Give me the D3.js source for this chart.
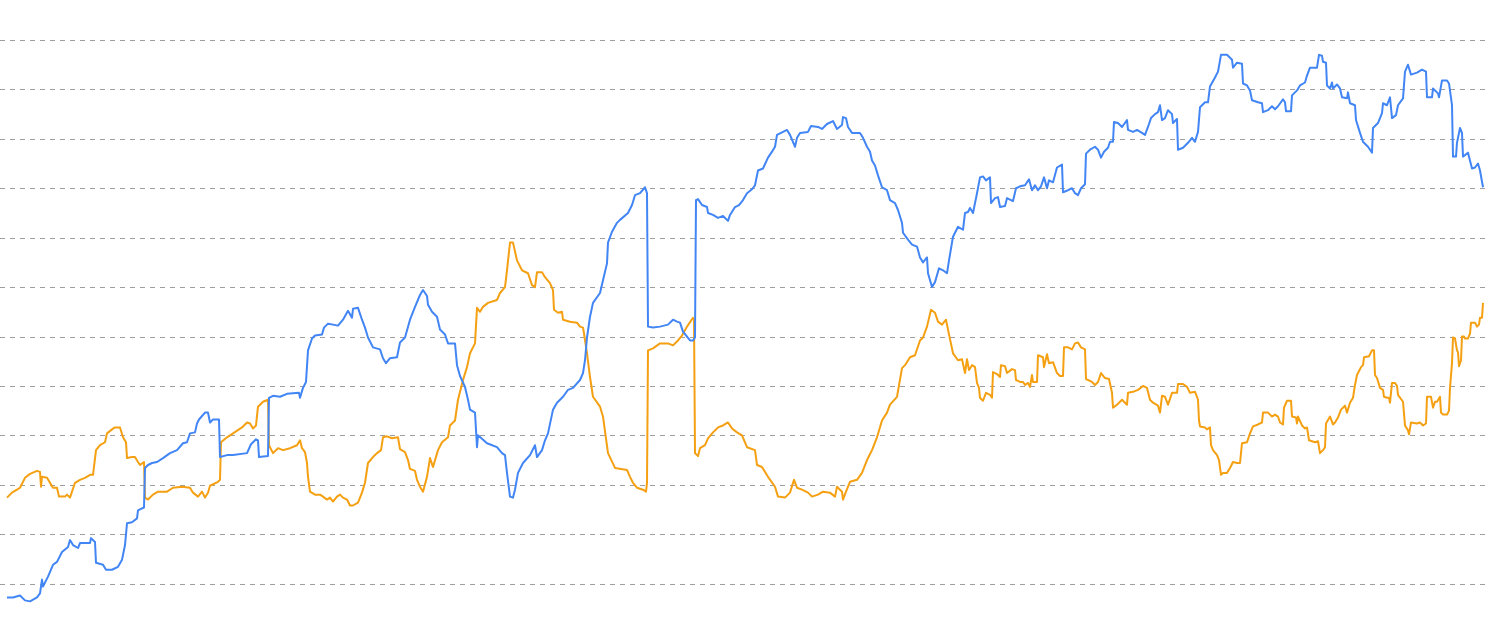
<!DOCTYPE html>
<html>
<head>
<meta charset="utf-8">
<script src="https://cdn.jsdelivr.net/npm/d3@7"></script>
<style>
  body { margin: 0; background: #fff; }
</style>
</head>
<body>
<div id="chart"></div>
<script>
// gridline values (labels are not shown in the chart)
const yTicks = [50, 100, 150, 200, 250, 300, 350, 400, 450, 500, 550, 600];

// [step, value] pairs
const blueSeries = [
  [0,36],[6,36],[13,38],[18,33],[23,32],[30,36],[33,40],[35,54],[36,47],[41,57],[46,69],[50,72],[55,82],[61,87],[63,94],[66,89],[71,86],[73,91],[83,91],[84,96],[88,92],[89,71],[96,69],[99,64],[105,64],[111,67],[115,74],[118,89],[120,111],[125,112],[130,116],[131,124],[135,126],[137,127],
  [138,167],[141,170],[145,172],[150,173],[156,177],[163,182],[170,185],[176,192],[180,193],[183,202],[188,203],[190,212],[192,216],[198,223],[201,223],[203,213],[206,216],[212,216],[213,178],[220,180],[226,180],[240,182],[244,191],[249,196],[251,195],[252,178],[261,179],
  [262,238],[266,240],[273,239],[280,242],[292,243],[293,238],[296,248],[299,254],[301,286],[305,298],[308,301],[315,302],[317,309],[321,313],[326,312],[331,311],[336,317],[341,326],[345,319],[346,328],[351,329],[355,317],[358,309],[361,299],[366,289],[373,287],[376,278],[379,273],[383,278],[390,279],
  [393,294],[398,299],[403,317],[408,330],[413,342],[416,347],[420,341],[421,332],[425,325],[430,320],[433,307],[438,302],[441,293],[448,293],[450,271],[453,260],[458,249],[461,236],[463,226],[468,223],[470,188],[471,200],[480,192],[490,188],[495,182],[498,180],[500,162],[503,138],[506,137],[508,145],[511,162],[516,172],
  [523,180],[528,190],[530,178],[535,185],[538,195],[541,202],[546,226],[550,233],[556,239],[561,246],[566,248],[573,256],[576,263],[578,276],[580,299],[583,320],[586,334],[593,344],[596,357],[600,374],[601,395],[605,406],[610,415],[613,418],[621,425],[625,433],[628,443],[633,445],[638,451],[640,445],
  [641,310],[646,309],[653,310],[661,312],[666,317],[670,315],[673,314],[676,305],[683,296],[686,296],[688,299],[689,438],[691,439],[695,433],[700,431],[701,425],[706,423],[711,420],[716,422],[721,417],[723,423],[728,431],[732,433],[736,438],[740,445],[745,449],[748,453],[751,468],[756,470],[761,481],[765,487],[768,492],
  [770,504],[776,507],[780,509],[783,504],[788,492],[790,501],[793,506],[801,507],[804,513],[811,512],[815,510],[820,515],[826,518],[830,510],[835,514],[836,522],[839,521],[841,512],[845,506],[853,506],[856,501],[860,492],[863,487],[865,478],[868,473],[871,463],[875,451],[880,448],[883,438],[888,435],[891,428],
  [895,415],[896,405],[901,398],[905,393],[910,391],[913,380],[916,375],[920,380],[921,364],[925,350],[928,355],[932,369],[936,367],[940,364],[942,377],[946,401],[951,411],[956,408],[958,425],[961,426],[963,430],[966,425],[970,445],[973,461],[976,462],[979,458],[983,461],[984,435],[988,440],[991,441],[993,431],
  [998,432],[1000,440],[1006,437],[1009,450],[1013,452],[1018,453],[1022,459],[1025,448],[1028,453],[1031,448],[1034,452],[1037,461],[1040,450],[1042,458],[1046,456],[1050,471],[1055,474],[1056,446],[1061,448],[1065,450],[1068,445],[1071,443],[1074,450],[1078,454],[1079,485],[1083,489],[1088,492],[1091,489],
  [1094,481],[1097,487],[1101,491],[1103,497],[1106,497],[1107,517],[1111,516],[1115,512],[1120,519],[1121,509],[1126,507],[1130,509],[1135,506],[1138,504],[1141,512],[1144,521],[1148,525],[1151,527],[1153,534],[1155,519],[1158,521],[1161,529],[1165,525],[1166,516],[1170,520],[1171,489],[1176,491],[1181,496],
  [1185,501],[1188,497],[1191,507],[1193,532],[1198,537],[1201,537],[1203,553],[1208,562],[1211,568],[1214,585],[1220,585],[1225,580],[1226,572],[1230,577],[1235,576],[1236,556],[1240,554],[1243,549],[1245,539],[1251,537],[1255,536],[1256,527],[1261,529],[1265,533],[1268,530],[1271,533],[1276,540],[1278,537],
  [1279,528],[1284,528],[1285,544],[1290,549],[1293,554],[1298,557],[1300,564],[1303,572],[1310,572],[1312,585],[1315,584],[1316,578],[1319,577],[1320,554],[1323,551],[1325,557],[1326,551],[1330,555],[1333,551],[1335,542],[1340,541],[1341,547],[1343,536],[1348,534],[1349,519],[1353,506],[1356,497],[1361,492],
  [1365,486],[1366,511],[1371,516],[1375,526],[1376,536],[1380,534],[1383,542],[1385,521],[1389,524],[1391,534],[1396,541],[1398,568],[1401,575],[1404,565],[1410,567],[1415,570],[1419,568],[1420,542],[1425,542],[1426,551],[1431,546],[1432,542],[1435,559],[1440,559],[1442,556],[1445,534],[1446,482],[1449,482],
  [1450,496],[1453,511],[1455,506],[1456,482],[1461,486],[1465,470],[1468,471],[1471,475],[1473,468],[1476,451]
];

const orangeSeries = [
  [0,137],[5,142],[10,145],[13,147],[18,157],[23,161],[30,164],[33,163],[34,148],[35,158],[40,157],[43,152],[46,147],[50,147],[52,138],[58,138],[60,140],[63,137],[68,152],[73,155],[78,157],[83,160],[86,160],[89,185],[93,190],[98,193],[100,202],[105,206],[108,208],[113,208],[116,198],[119,193],[120,177],
  [125,178],[128,178],[131,173],[133,170],[137,173],[138,137],[141,135],[146,140],[151,143],[160,143],[166,147],[175,148],[183,147],[186,142],[191,138],[195,143],[198,137],[201,142],[203,149],[211,153],[213,155],[214,193],[220,198],[226,202],[235,208],[240,213],[243,212],[246,207],[249,210],[251,229],[256,234],[261,236],
  [262,190],[266,182],[271,187],[276,185],[283,187],[290,190],[293,195],[295,187],[298,183],[300,172],[301,158],[303,143],[308,140],[313,140],[316,138],[320,135],[323,137],[326,133],[330,138],[333,140],[336,137],[340,135],[343,129],[346,129],[351,132],[355,142],[358,152],[361,172],[366,178],[370,182],[374,185],
  [376,198],[380,199],[385,197],[391,198],[393,186],[398,183],[401,175],[403,166],[408,164],[410,155],[413,148],[416,143],[420,158],[423,177],[426,168],[431,185],[435,193],[441,198],[443,210],[448,215],[451,236],[456,256],[460,269],[463,283],[468,293],[470,329],[473,325],[476,330],[481,334],[490,337],[493,344],[498,350],
  [500,367],[503,395],[506,395],[510,377],[515,367],[521,364],[525,352],[528,350],[530,365],[535,365],[538,360],[543,354],[546,347],[547,327],[551,324],[555,325],[556,317],[563,315],[570,314],[573,310],[576,309],[577,303],[580,283],[583,259],[586,239],[593,229],[596,219],[601,182],[608,167],[620,165],[623,158],
  [626,152],[630,147],[636,145],[639,143],[640,152],[641,286],[646,288],[653,293],[661,293],[666,291],[671,296],[675,301],[680,310],[686,319],[687,317],[688,182],[691,179],[693,187],[698,190],[701,197],[706,203],[711,208],[716,210],[721,213],[725,207],[730,203],[735,200],[740,188],[748,185],[750,170],[755,168],
  [761,158],[768,148],[771,138],[778,137],[783,142],[787,155],[790,147],[795,145],[801,142],[805,138],[811,140],[816,143],[823,142],[828,138],[830,148],[835,143],[836,135],[839,143],[843,153],[850,155],[855,162],[860,175],[865,185],[870,198],[875,215],[880,223],[883,231],[890,239],[895,268],[898,271],[903,279],
  [908,281],[913,296],[916,299],[920,310],[924,327],[928,324],[931,315],[935,312],[939,317],[941,307],[946,283],[951,276],[955,277],[958,263],[960,277],[962,266],[965,271],[968,269],[970,253],[972,248],[973,238],[976,235],[979,243],[983,241],[985,238],[986,264],[990,262],[993,259],[994,271],[998,270],[1000,263],
  [1005,267],[1008,266],[1009,256],[1013,254],[1016,254],[1018,251],[1021,253],[1023,249],[1025,261],[1026,254],[1030,254],[1031,281],[1036,279],[1037,269],[1040,282],[1042,273],[1046,274],[1050,263],[1053,260],[1056,260],[1057,289],[1061,289],[1065,287],[1068,293],[1071,294],[1074,289],[1078,287],[1079,257],
  [1085,254],[1088,251],[1091,254],[1094,263],[1098,258],[1102,257],[1105,243],[1106,228],[1110,231],[1115,236],[1120,231],[1121,243],[1126,244],[1131,246],[1136,250],[1140,248],[1143,236],[1146,233],[1151,230],[1153,223],[1155,240],[1158,239],[1161,231],[1165,243],[1170,243],[1171,252],[1176,252],[1180,249],
  [1183,243],[1188,244],[1190,239],[1191,236],[1192,215],[1193,209],[1198,208],[1200,206],[1203,208],[1204,190],[1206,185],[1210,180],[1212,175],[1214,160],[1216,162],[1220,162],[1223,167],[1226,173],[1230,172],[1233,172],[1235,192],[1240,193],[1243,202],[1246,209],[1251,211],[1255,213],[1256,223],[1261,223],
  [1265,219],[1268,221],[1271,219],[1273,213],[1276,211],[1277,228],[1280,235],[1284,235],[1285,219],[1289,218],[1290,212],[1291,219],[1295,210],[1298,207],[1300,208],[1302,195],[1308,193],[1311,194],[1313,182],[1316,185],[1318,188],[1319,212],[1323,219],[1326,211],[1328,213],[1331,218],[1334,226],[1338,230],
  [1340,223],[1343,233],[1346,238],[1348,251],[1350,261],[1354,269],[1356,271],[1357,279],[1362,280],[1365,286],[1367,286],[1368,261],[1370,258],[1373,248],[1376,246],[1377,239],[1380,238],[1382,238],[1383,233],[1385,253],[1388,253],[1390,250],[1391,241],[1396,234],[1398,210],[1401,205],[1402,201],[1404,213],
  [1410,212],[1413,213],[1416,210],[1419,212],[1420,239],[1424,239],[1426,228],[1428,234],[1430,234],[1433,239],[1434,223],[1436,221],[1440,221],[1442,225],[1443,248],[1445,273],[1446,299],[1448,298],[1450,286],[1451,284],[1452,270],[1454,276],[1455,300],[1457,300],[1458,298],[1461,298],[1463,303],[1464,314],
  [1468,314],[1470,310],[1472,312],[1473,319],[1475,319],[1476,334]
];

// Set dimensions for the plot
const width = 1490;
const height = 633;
const plot = {left: 7, right: 1483, top: 40, bottom: 633};

// Add an svg to the chart div
let svg = d3.select("#chart")
  .append("svg")
  .attr("width", width)
  .attr("height", height);

// Scales
let xScale = d3.scaleLinear()
  .domain([0, 1476])
  .range([plot.left, plot.right]);

let yScale = d3.scaleLinear()
  .domain([0, 600])
  .range([plot.bottom, plot.top]);

// Dashed gridlines through a left axis with long ticks
let grid = svg.append("g")
  .call(d3.axisLeft(yScale).tickValues(yTicks).tickSize(-1488).tickFormat(""))
  .attr("transform", "translate(0,0)");

grid.select(".domain").remove();
grid.selectAll(".tick line")
  .attr("x1", 0)
  .attr("x2", 1488)
  .attr("stroke", "#9e9e9e")
  .attr("stroke-width", 1)
  .attr("stroke-dasharray", "5,5")
  .attr("shape-rendering", "crispEdges");

// Lines
const line = d3.line()
  .x(d => xScale(d[0]))
  .y(d => yScale(d[1]));

svg.append("path")
  .datum(orangeSeries)
  .attr("fill", "none")
  .attr("stroke", "#f4a012")
  .attr("stroke-width", 2)
  .attr("stroke-linejoin", "round")
  .attr("d", line);

svg.append("path")
  .datum(blueSeries)
  .attr("fill", "none")
  .attr("stroke", "#4285f4")
  .attr("stroke-width", 2)
  .attr("stroke-linejoin", "round")
  .attr("d", line);
</script>
</body>
</html>
